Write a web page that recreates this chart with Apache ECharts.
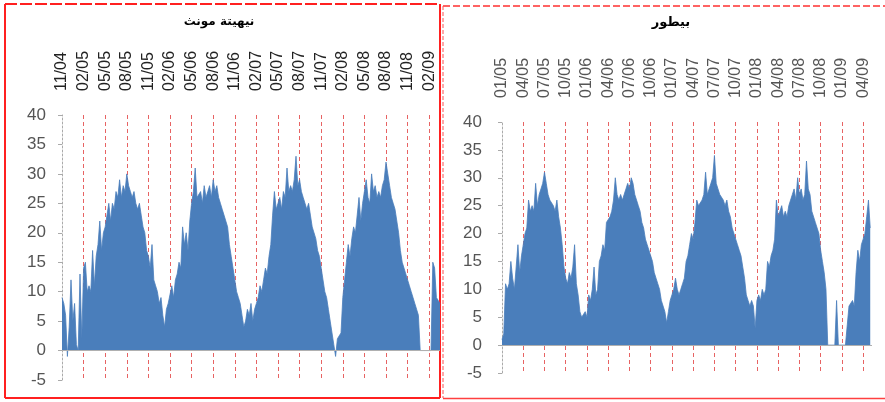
<!DOCTYPE html>
<html>
<head>
<meta charset="utf-8">
<script src="https://cdn.jsdelivr.net/npm/echarts@6/dist/echarts.min.js"></script>
<style>
html,body{margin:0;padding:0;background:#fff;}
#chart{width:885px;height:402px;}
</style>
</head>
<body>
<div id="chart"></div>
<script>
// ---- titles and tick labels ----
const leftTitle = 'نيهيتة مونث';
const rightTitle = 'بيطور';
const leftTickLabels = ['11/04','02/05','05/05','08/05','11/05','02/06','05/06','08/06','11/06','02/07','05/07','08/07','11/07','02/08','05/08','08/08','11/08','02/09'];
const rightTickLabels = ['01/05','04/05','07/05','10/05','01/06','04/06','07/06','10/06','01/07','04/07','07/07','10/07','01/08','04/08','07/08','10/08','01/09','04/09'];
const monthsPerTick = 3;
const samplesPerMonth = 4;
const yMin = -5, yMax = 40, yStep = 5;

// ---- left station: values read 4 per month starting Nov 2004 ----
const leftValues = [
  9, 8, 6, -1,     4, 12, 5, 8,      1, 0, 13, 2,      14, 15, 10, 11,
  10, 17, 11, 16,  18, 22, 17, 20,   21, 23, 25, 22,   25, 24, 27, 26,
  29, 26, 28, 27,  30, 28, 27, 26,   27, 25, 24, 25,   23, 21, 20, 17,
  16, 14, 18, 12,  11, 10, 8, 9,     6, 4, 7, 8,       8, 11, 9, 12,
  13, 15, 14, 21,  18, 20, 17, 22,   25, 27, 31, 26,   26, 27, 25, 28,
  26, 27, 28, 26,  29, 27, 28, 26,   25, 24, 23, 22,   21, 18, 16, 14,
  12, 10, 9, 8,    6, 4, 5, 7,       6, 8, 5, 7,       8, 9, 11, 10,
  12, 14, 13, 16,  18, 23, 27, 24,   25, 26, 24, 27,   26, 31, 27, 28,
  27, 29, 33, 28,  29, 27, 26, 25,   24, 25, 23, 21,   20, 19, 17, 16,
  14, 12, 10, 9,   7, 5, 3, 1,       -1, 2, 2, 3,      9, 12, 15, 18,
  16, 19, 21, 20,  23, 26, 22, 25,   25, 29, 26, 25,   30, 27, 28, 26,
  27, 26, 28, 29,  32, 30, 28, 26,   25, 24, 22, 20,   17, 15, 14, 13,
  12, 11, 10, 9,   8, 7, 6, 0,       0, 0, 0, 0,       0, 0, 15, 14,
  9, 9, 8
];

// ---- right station: values read 4 per month starting Jan 2005 ----
const rightValues = [
  1, 2, 11, 10,    11, 15, 12, 10,   14, 18, 13, 16,   18, 20, 21, 26,
  24, 25, 24, 29,  25, 27, 28, 29,   31, 29, 27, 26,   26, 25, 24, 26,
  23, 21, 18, 14,  12, 11, 13, 12,   14, 18, 11, 9,    6, 5, 5, 6,
  5, 9, 8, 10,     14, 9, 10, 15,    16, 18, 17, 22,   22, 23, 24, 26,
  30, 27, 26, 27,  26, 27, 28, 29,   28, 30, 29, 27,   26, 25, 24, 22,
  21, 19, 18, 18,  16, 15, 13, 12,   11, 10, 8, 7,     6, 4, 6, 8,
  9, 10, 12, 10,   9, 10, 11, 12,    15, 16, 18, 20,   19, 22, 26, 25,
  25, 26, 27, 31,  27, 28, 29, 30,   34, 29, 28, 27,   27, 26, 25, 26,
  24, 23, 21, 20,  19, 18, 17, 16,   14, 12, 9, 8,     7, 8, 7, 3,
  8, 9, 8, 10,     9, 10, 15, 14,    16, 17, 19, 26,   23, 24, 25, 23,
  24, 23, 25, 26,  27, 28, 26, 30,   27, 28, 26, 27,   33, 28, 27, 24,
  24, 22, 21, 20,  17, 15, 13, 10,   0, 0, 0, 0,       0, 8, 0, 0,
  0, 0, 0, 0,      7, 7, 8, 7,       13, 17, 15, 18,   19, 20, 23, 26,
  21
];

const toSeries = vals => vals.map((v, i) => [i / samplesPerMonth, v]);

const blue = '#4A7EBB';
const redDash = { color: 'rgba(225,60,60,0.8)', type: [4, 3], width: 1 };
const labelFont = '"Liberation Sans", Arial, sans-serif';
const titleFont = '"DejaVu Sans", sans-serif';

function xAxisFor(gridIndex, labels, max, color) {
  return {
    gridIndex, type: 'value', position: 'top',
    min: 0, max: max, interval: monthsPerTick,
    axisLine: { show: false }, axisTick: { show: false },
    axisLabel: {
      rotate: 90, margin: 24, fontSize: 16, fontFamily: labelFont, color: color,
      formatter: v => {
        const k = v / monthsPerTick;
        return Number.isInteger(k) && k < labels.length ? labels[k] : '';
      }
    },
    splitLine: { show: true, showMinLine: false, showMaxLine: false, lineStyle: redDash }
  };
}
function yAxisFor(gridIndex, margin) {
  return {
    gridIndex, type: 'value', min: yMin, max: yMax, interval: yStep,
    axisLine: { show: true, lineStyle: { color: '#aaa', type: [2, 2] } },
    axisTick: { show: true, length: 4, lineStyle: { color: '#aaa' } },
    axisLabel: { fontSize: 17, fontFamily: labelFont, color: '#555', margin: margin },
    splitLine: { show: false }
  };
}
function seriesFor(idx, vals) {
  return {
    type: 'line', xAxisIndex: idx, yAxisIndex: idx,
    data: toSeries(vals), symbol: 'none', smooth: false,
    lineStyle: { color: blue, width: 0.8 },
    areaStyle: { color: blue, opacity: 1 },
    animation: false,
    markLine: {
      silent: true, symbol: 'none', animation: false,
      label: { show: false },
      lineStyle: { color: '#b0b0b0', type: 'solid', width: 1 },
      data: [{ yAxis: 0 }]
    }
  };
}

const chart = echarts.init(document.getElementById('chart'), null, { renderer: 'canvas' });
chart.setOption({
  animation: false,
  grid: [
    { left: 62, top: 115, width: 378, height: 265 },
    { left: 502, top: 122, width: 370, height: 251 }
  ],
  xAxis: [ xAxisFor(0, leftTickLabels, 52.5, '#222'), xAxisFor(1, rightTickLabels, 52.25, '#555') ],
  yAxis: [ yAxisFor(0, 16), yAxisFor(1, 20) ],
  series: [ seriesFor(0, leftValues), seriesFor(1, rightValues) ],
  graphic: [
    { type: 'text', x: 219, y: 22, style: { text: leftTitle, textAlign: 'center', textVerticalAlign: 'middle', font: 'bold 12px ' + titleFont, fill: '#000' } },
    { type: 'text', x: 671, y: 23, style: { text: rightTitle, textAlign: 'center', textVerticalAlign: 'middle', font: 'bold 13px ' + titleFont, fill: '#000' } },
    // left panel frame
    { type: 'line', shape: { x1: 5, y1: 398, x2: 440, y2: 398 }, style: { stroke: '#ff2020', lineWidth: 2 } },
    { type: 'line', shape: { x1: 5, y1: 4, x2: 5, y2: 398 }, style: { stroke: '#ff2020', lineWidth: 2 } },
    { type: 'line', shape: { x1: 440, y1: 4, x2: 440, y2: 398 }, style: { stroke: '#ff2020', lineWidth: 2 } },
    { type: 'line', shape: { x1: 5, y1: 4, x2: 440, y2: 4 }, style: { stroke: '#ff2020', lineWidth: 2, lineDash: [12, 3] } },
    // right panel frame
    { type: 'line', shape: { x1: 443, y1: 6, x2: 885, y2: 6 }, style: { stroke: '#ff3030', lineWidth: 1.5, lineDash: [7, 3] } },
    { type: 'line', shape: { x1: 443, y1: 6, x2: 443, y2: 398 }, style: { stroke: '#ff5050', lineWidth: 1, lineDash: [4, 2] } },
    { type: 'line', shape: { x1: 443, y1: 398.5, x2: 885, y2: 398.5 }, style: { stroke: '#ff4040', lineWidth: 1.5 } }
  ]
});
</script>
</body>
</html>
